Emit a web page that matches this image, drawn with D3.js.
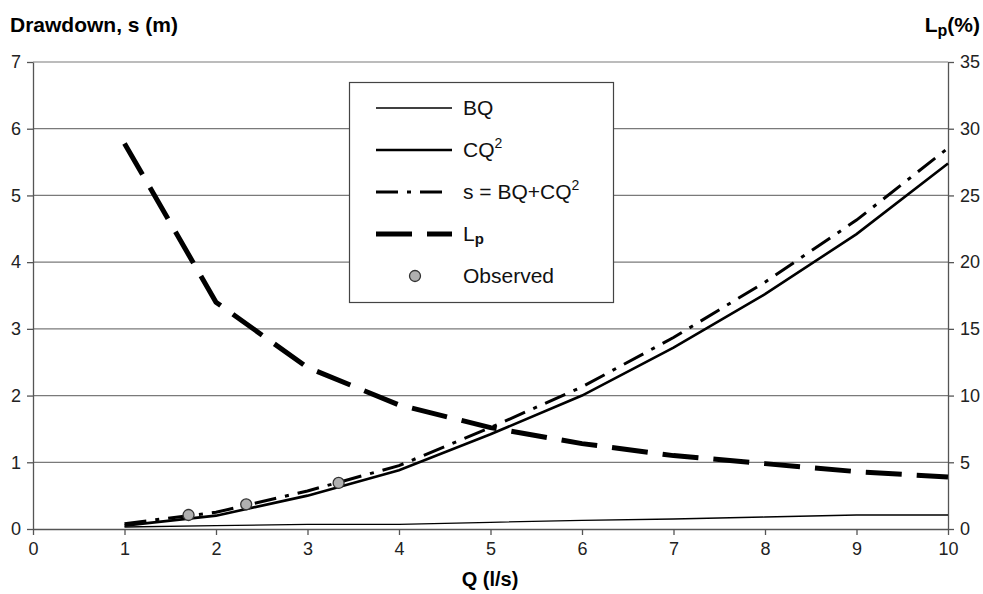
<!DOCTYPE html>
<html>
<head>
<meta charset="UTF-8">
<title>Drawdown</title>
<script src="https://d3js.org/d3.v7.min.js"></script>
<style>
html, body { margin: 0; padding: 0; background: #fff; }
svg { display: block; font-family: Arial, "Liberation Sans", sans-serif; }
</style>
</head>
<body>
<script>
// values, Q in l/s
var qValues = [1, 2, 3, 4, 5, 6, 7, 8, 9, 10];
var bqValues = [0.03, 0.05, 0.07, 0.07, 0.10, 0.13, 0.15, 0.18, 0.21, 0.21];
var cq2Values = [0.05, 0.20, 0.50, 0.88, 1.42, 2.00, 2.72, 3.52, 4.42, 5.48];
var sValues = [0.08, 0.25, 0.57, 0.95, 1.52, 2.13, 2.87, 3.70, 4.63, 5.71];
var lpValues = [28.9, 17.0, 12.1, 9.3, 7.6, 6.4, 5.5, 4.9, 4.3, 3.9];
var obsQ = [1.70, 2.33, 3.34];
var obsS = [0.21, 0.37, 0.69];
var xTicks = [0, 1, 2, 3, 4, 5, 6, 7, 8, 9, 10];
var yTicks = [0, 1, 2, 3, 4, 5, 6, 7];
var y2Ticks = [0, 5, 10, 15, 20, 25, 30, 35];

var width = 983, height = 594;
var margin = {left: 33, right: 35, top: 62, bottom: 65};

var svg = d3.select("body").append("svg")
    .attr("width", width)
    .attr("height", height);

var x = d3.scaleLinear().domain([0, 10]).range([margin.left, width - margin.right]);
var y = d3.scaleLinear().domain([0, 7]).range([height - margin.bottom, margin.top]);
var y2 = d3.scaleLinear().domain([0, 35]).range([height - margin.bottom, margin.top]);

// grid
svg.append("g").selectAll("line")
    .data(yTicks.slice(1))
    .enter().append("line")
    .attr("x1", x(0)).attr("x2", x(10))
    .attr("y1", function (d) { return y(d); })
    .attr("y2", function (d) { return y(d); })
    .attr("stroke", "#7a7a7a")
    .attr("stroke-width", 1.2);

function styleAxis(g) {
    g.selectAll("path").attr("stroke", "#555").attr("stroke-width", 1.3);
    g.selectAll("line").attr("stroke", "#555").attr("stroke-width", 1.3);
    g.selectAll("text").attr("fill", "#222").attr("font-size", 18);
}

svg.append("g")
    .attr("transform", "translate(0," + y(0) + ")")
    .call(d3.axisBottom(x).tickValues(xTicks).tickFormat(d3.format("d"))
        .tickSize(6).tickSizeOuter(0).tickPadding(7))
    .call(styleAxis);

svg.append("g")
    .attr("transform", "translate(" + x(0) + ",0)")
    .call(d3.axisLeft(y).tickValues(yTicks).tickFormat(d3.format("d"))
        .tickSize(6).tickSizeOuter(0).tickPadding(6))
    .call(styleAxis);

svg.append("g")
    .attr("transform", "translate(" + x(10) + ",0)")
    .call(d3.axisRight(y2).tickValues(y2Ticks).tickFormat(d3.format("d"))
        .tickSize(6).tickSizeOuter(0).tickPadding(6))
    .call(styleAxis);

// titles
svg.append("text")
    .attr("x", 10).attr("y", 32)
    .attr("font-size", 21).attr("font-weight", "bold")
    .text("Drawdown, s (m)");

var lpTitle = svg.append("text")
    .attr("x", 980).attr("y", 32)
    .attr("text-anchor", "end")
    .attr("font-size", 21).attr("font-weight", "bold");
lpTitle.append("tspan").text("L");
lpTitle.append("tspan").attr("font-size", 16).attr("dy", 4).text("p");
lpTitle.append("tspan").attr("dy", -4).text("(%)");

svg.append("text")
    .attr("x", 490).attr("y", 586)
    .attr("text-anchor", "middle")
    .attr("font-size", 20).attr("font-weight", "bold")
    .text("Q (l/s)");

// series
var line = d3.line()
    .x(function (d) { return x(d[0]); })
    .y(function (d) { return y(d[1]); });
var lineLp = d3.line()
    .x(function (d) { return x(d[0]); })
    .y(function (d) { return y2(d[1]); });

var series = [
    {name: "BQ", vals: bqValues, w: 1.3, dash: null},
    {name: "CQ2", vals: cq2Values, w: 2.6, dash: null},
    {name: "s", vals: sValues, w: 3, dash: "22,9,4,9"}
];

var plot = svg.append("g");

plot.append("path")
    .datum(d3.zip(qValues, lpValues))
    .attr("d", lineLp)
    .attr("fill", "none")
    .attr("stroke", "#000")
    .attr("stroke-width", 5)
    .attr("stroke-dasharray", "36,15");

series.forEach(function (s) {
    plot.append("path")
        .datum(d3.zip(qValues, s.vals))
        .attr("d", line)
        .attr("fill", "none")
        .attr("stroke", "#000")
        .attr("stroke-width", s.w)
        .attr("stroke-dasharray", s.dash);
});

plot.selectAll("circle")
    .data(d3.zip(obsQ, obsS))
    .enter().append("circle")
    .attr("cx", function (d) { return x(d[0]); })
    .attr("cy", function (d) { return y(d[1]); })
    .attr("r", 5.5)
    .attr("fill", "#b0b0b0")
    .attr("stroke", "#333")
    .attr("stroke-width", 1.3);

// legend
var lg = svg.append("g");
lg.append("rect")
    .attr("x", 349.5).attr("y", 82.5)
    .attr("width", 264).attr("height", 220)
    .attr("fill", "#fff")
    .attr("stroke", "#444").attr("stroke-width", 1.2);

var rows = [108, 150, 192, 234, 276];
var sx1 = 376, sx2 = 452, tx = 463;

lg.append("line").attr("x1", sx1).attr("x2", sx2).attr("y1", rows[0]).attr("y2", rows[0])
    .attr("stroke", "#000").attr("stroke-width", 1.3);
lg.append("line").attr("x1", sx1).attr("x2", sx2).attr("y1", rows[1]).attr("y2", rows[1])
    .attr("stroke", "#000").attr("stroke-width", 2.6);
lg.append("line").attr("x1", sx1).attr("x2", sx2).attr("y1", rows[2]).attr("y2", rows[2])
    .attr("stroke", "#000").attr("stroke-width", 3).attr("stroke-dasharray", "22,9,4,9,22");
lg.append("line").attr("x1", sx1).attr("x2", sx2).attr("y1", rows[3]).attr("y2", rows[3])
    .attr("stroke", "#000").attr("stroke-width", 5).attr("stroke-dasharray", "36,15,25");
lg.append("circle").attr("cx", 415).attr("cy", rows[4])
    .attr("r", 5.5).attr("fill", "#b0b0b0").attr("stroke", "#333").attr("stroke-width", 1.3);

function legText(i) {
    return lg.append("text").attr("x", tx).attr("y", rows[i] + 7).attr("font-size", 21).attr("fill", "#111");
}
legText(0).text("BQ");
var t1 = legText(1);
t1.append("tspan").text("CQ");
t1.append("tspan").attr("font-size", 14).attr("dy", -9).text("2");
var t2 = legText(2);
t2.append("tspan").text("s = BQ+CQ");
t2.append("tspan").attr("font-size", 14).attr("dy", -9).text("2");
var t3 = legText(3);
t3.append("tspan").text("L");
t3.append("tspan").attr("font-size", 15).attr("font-weight", "bold").attr("dy", 3).text("p");
legText(4).text("Observed");
</script>
</body>
</html>
